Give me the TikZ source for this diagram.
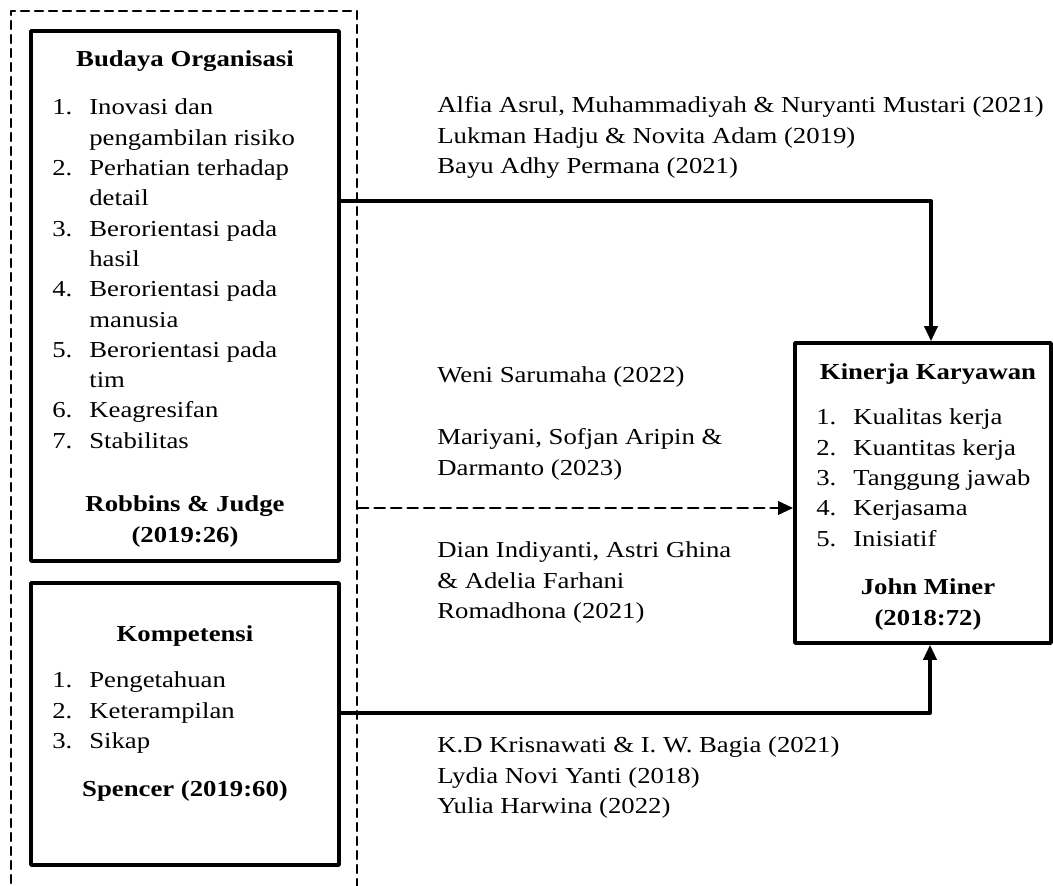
\documentclass[tikz,border=0pt]{standalone}
\usepackage{fontspec}
\setmainfont{Liberation Serif}[FakeStretch=1.17]
\usepackage{array}
\usetikzlibrary{arrows.meta}

\begin{document}
\begin{tikzpicture}[line cap=round,line join=round,x=1.0cm,y=1.0cm,
    font=\fontsize{13pt}{17.24pt}\selectfont,
    kotak/.style={draw,line width=2pt,inner sep=0pt},
    grup/.style={draw,line width=1.3pt,dash pattern=on 0.16cm off 0.12cm,inner sep=0pt},
    teks/.style={inner sep=0pt},
    panah/.style={line width=1.9pt,-{Triangle[length=0.30cm,width=0.26cm]}},
    panahputus/.style={line width=1.7pt,dash pattern=on 0.2cm off 0.13cm,-{Triangle[length=0.30cm,width=0.26cm]}}]

    \useasboundingbox (0,0) rectangle (21.06,17.72);
	%\draw [xstep=1.0cm,ystep=1.0cm] (0,0) grid (21,17);

    % kotak variabel
    \draw (3.68,8.70) node[grup,minimum width=6.92cm,minimum height=17.6cm] (kelompok) {};
    \draw (3.70,11.80) node[kotak,minimum width=6.16cm,minimum height=10.6cm] (budaya) {};
    \draw (3.70,3.24) node[kotak,minimum width=6.16cm,minimum height=5.64cm] (kompetensi) {};
    \draw (18.46,7.86) node[kotak,minimum width=5.12cm,minimum height=6.0cm] (kinerja) {};

    % isi budaya organisasi
    \draw (3.70,16.38) node[teks,anchor=base] (judulbudaya) {\textbf{Budaya Organisasi}};
    \draw (1.04,15.42) node[teks,anchor=base west] (daftarbudaya) {\begin{tabular}[t]{@{}p{0.74cm}@{}l@{}}
        1. & Inovasi dan\\
           & pengambilan risiko\\
        2. & Perhatian terhadap\\
           & detail\\
        3. & Berorientasi pada\\
           & hasil\\
        4. & Berorientasi pada\\
           & manusia\\
        5. & Berorientasi pada\\
           & tim\\
        6. & Keagresifan\\
        7. & Stabilitas
    \end{tabular}};
    \draw (3.70,7.48) node[teks,anchor=base] (sumberbudaya) {\begin{tabular}[t]{@{}c@{}}
        \bfseries Robbins \& Judge\\ \bfseries (2019:26)
    \end{tabular}};

    % isi kompetensi
    \draw (3.70,4.88) node[teks,anchor=base] (judulkompetensi) {\textbf{Kompetensi}};
    \draw (1.04,3.96) node[teks,anchor=base west] (daftarkompetensi) {\begin{tabular}[t]{@{}p{0.74cm}@{}l@{}}
        1. & Pengetahuan\\
        2. & Keterampilan\\
        3. & Sikap
    \end{tabular}};
    \draw (3.70,1.78) node[teks,anchor=base] (sumberkompetensi) {\textbf{Spencer (2019:60)}};

    % isi kinerja karyawan
    \draw (18.56,10.12) node[teks,anchor=base] (judulkinerja) {\textbf{Kinerja Karyawan}};
    \draw (16.32,9.22) node[teks,anchor=base west] (daftarkinerja) {\begin{tabular}[t]{@{}p{0.74cm}@{}l@{}}
        1. & Kualitas kerja\\
        2. & Kuantitas kerja\\
        3. & Tanggung jawab\\
        4. & Kerjasama\\
        5. & Inisiatif
    \end{tabular}};
    \draw (18.56,5.82) node[teks,anchor=base] (sumberkinerja) {\begin{tabular}[t]{@{}c@{}}
        \bfseries John Miner\\ \bfseries (2018:72)
    \end{tabular}};

    % penelitian terdahulu
    \draw (8.74,15.46) node[teks,anchor=base west] (rujukanbudaya) {\begin{tabular}[t]{@{}l@{}}
        Alfia Asrul, Muhammadiyah \& Nuryanti Mustari (2021)\\
        Lukman Hadju \& Novita Adam (2019)\\
        Bayu Adhy Permana (2021)
    \end{tabular}};
    \draw (8.74,10.06) node[teks,anchor=base west] (rujukanweni) {Weni Sarumaha (2022)};
    \draw (8.74,8.82) node[teks,anchor=base west] (rujukanmariyani) {\begin{tabular}[t]{@{}l@{}}
        Mariyani, Sofjan Aripin \&\\
        Darmanto (2023)
    \end{tabular}};
    \draw (8.74,6.56) node[teks,anchor=base west] (rujukandian) {\begin{tabular}[t]{@{}l@{}}
        Dian Indiyanti, Astri Ghina\\
        \& Adelia Farhani\\
        Romadhona (2021)
    \end{tabular}};
    \draw (8.74,2.66) node[teks,anchor=base west] (rujukankompetensi) {\begin{tabular}[t]{@{}l@{}}
        K.D Krisnawati \& I. W. Bagia (2021)\\
        Lydia Novi Yanti (2018)\\
        Yulia Harwina (2022)
    \end{tabular}};

    % panah pengaruh
    \coordinate (belok1) at (18.62,13.70);
    \coordinate (belok2) at (18.60,3.46);
    \coordinate (masuk) at ([yshift=-0.3cm]kinerja.west);
    \draw [panah] (budaya.east |- belok1) -- (belok1) -- (belok1 |- kinerja.north);
    \draw [panah] (kompetensi.east |- belok2) -- (belok2) -- (belok2 |- kinerja.south);
    \draw [panahputus] (kelompok.east |- masuk) -- (masuk);
\end{tikzpicture}
\end{document}
